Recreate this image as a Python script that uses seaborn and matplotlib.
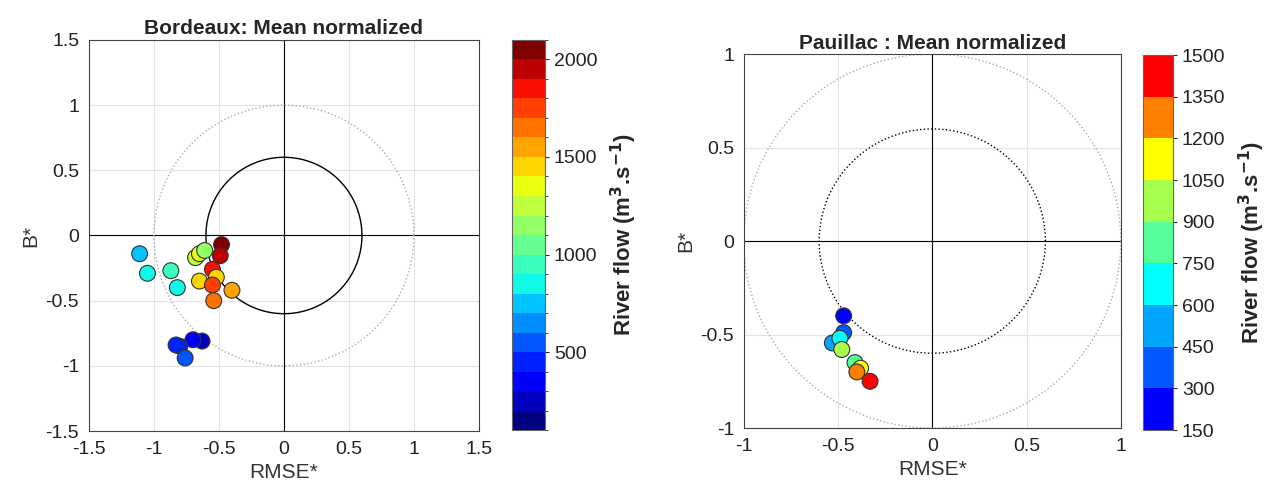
import numpy as np
import pandas as pd
import matplotlib
matplotlib.use("Agg")
import matplotlib.pyplot as plt
import matplotlib.colors as mcolors
import matplotlib.cm as cm
from matplotlib.ticker import FuncFormatter
import seaborn as sns

sns.set_style("white")
plt.rcParams['font.family'] = ['Liberation Sans', 'DejaVu Sans']
plt.rcParams['axes.unicode_minus'] = False

# ---- data: Bordeaux ----
bdx_rmse = [-1.11, -1.05, -0.87, -0.82, -0.68, -0.65, -0.61, -0.48, -0.49, -0.55,
            -0.52, -0.65, -0.55, -0.40, -0.54, -0.63, -0.70, -0.80, -0.83, -0.76]
bdx_b = [-0.14, -0.29, -0.27, -0.40, -0.17, -0.14, -0.115, -0.07, -0.155, -0.26,
         -0.32, -0.35, -0.38, -0.42, -0.50, -0.81, -0.80, -0.85, -0.84, -0.94]
bdx_flow = [720, 820, 950, 880, 1220, 1320, 1120, 2050, 1950, 1850,
            1450, 1420, 1720, 1560, 1650, 250, 320, 430, 470, 560]

# ---- data: Pauillac ----
pau_rmse = [-0.47, -0.47, -0.53, -0.49, -0.48, -0.41, -0.38, -0.40, -0.33]
pau_b = [-0.40, -0.49, -0.545, -0.52, -0.58, -0.65, -0.68, -0.70, -0.75]
pau_flow = [220, 380, 520, 680, 1000, 820, 1130, 1280, 1430]

bdx_ticks = [-1.5, -1, -0.5, 0, 0.5, 1, 1.5]
pau_ticks = [-1, -0.5, 0, 0.5, 1]
bdx_cbar_ticks = [500, 1000, 1500, 2000]
pau_cbar_ticks = [150, 300, 450, 600, 750, 900, 1050, 1200, 1350, 1500]
titles = ["Bordeaux: Mean normalized", "Pauillac : Mean normalized"]
cbar_label = r"River flow (m$^{\mathbf{3}}$.s$^{\mathbf{-1}}$)"

# colormaps
bdx_cmap = matplotlib.colormaps['jet'].resampled(20)
bdx_norm = mcolors.BoundaryNorm(np.linspace(100, 2100, 21), 20)
pau_cmap = mcolors.ListedColormap([(0, 0, 1), (0, 0.35, 1), (0, 0.65, 1), (0, 1, 1),
                                   (0.33, 1, 0.6), (0.65, 1, 0.3), (1, 1, 0),
                                   (1, 0.5, 0), (1, 0, 0)])
pau_norm = mcolors.BoundaryNorm(pau_cbar_ticks, 9)

fig = plt.figure(figsize=(12.67, 4.90), dpi=100)
ax1 = fig.add_axes([0.0702, 0.1204, 0.3078, 0.798])
cax1 = fig.add_axes([0.404, 0.1224, 0.026, 0.796])
ax2 = fig.add_axes([0.587, 0.1265, 0.2976, 0.763])
cax2 = fig.add_axes([0.902, 0.1224, 0.0237, 0.765])

fmt = FuncFormatter(lambda v, p: f"{v:g}")
theta = np.linspace(0, 2 * np.pi, 400)

def setup(ax, lim, ticks, title, inner_style):
    ax.set_xlim(-lim, lim)
    ax.set_ylim(-lim, lim)
    ax.set_xticks(ticks)
    ax.set_yticks(ticks)
    ax.xaxis.set_major_formatter(fmt)
    ax.yaxis.set_major_formatter(fmt)
    ax.grid(True, color='#e3e3e3', linewidth=0.8)
    ax.set_axisbelow(True)
    ax.axhline(0, color='black', linewidth=0.8, zorder=1)
    ax.axvline(0, color='black', linewidth=0.8, zorder=1)
    ax.plot(np.cos(theta), np.sin(theta), color='#aaaaaa', linestyle=':', linewidth=1.0, zorder=1)
    ax.plot(0.6 * np.cos(theta), 0.6 * np.sin(theta), color='black', linestyle=inner_style,
            linewidth=1.0, zorder=1)
    for s in ax.spines.values():
        s.set_color('#444444')
        s.set_linewidth(0.8)
    ax.tick_params(labelsize=14, length=4, direction='in', colors='#333333',
                   labelcolor='#222222', pad=7)

setup(ax1, 1.5, bdx_ticks, titles[0], '-')
setup(ax2, 1.0, pau_ticks, titles[1], ':')

df1 = pd.DataFrame({"RMSE": bdx_rmse, "B": bdx_b, "flow": bdx_flow})
df2 = pd.DataFrame({"RMSE": pau_rmse, "B": pau_b, "flow": pau_flow})

sns.scatterplot(data=df1, x="RMSE", y="B", hue="flow", palette=bdx_cmap, hue_norm=bdx_norm,
                s=130, edgecolor='#333333', linewidth=0.8, legend=False, ax=ax1, zorder=3)
sns.scatterplot(data=df2, x="RMSE", y="B", hue="flow", palette=pau_cmap, hue_norm=pau_norm,
                s=130, edgecolor='#333333', linewidth=0.8, legend=False, ax=ax2, zorder=3)
for ax, t in ((ax1, titles[0]), (ax2, titles[1])):
    ax.set_xlabel("RMSE*", fontsize=15, color='#333333', labelpad=4)
    ax.set_ylabel("B*", fontsize=15, color='#333333', labelpad=4)
    ax.set_title(t, fontsize=15, fontweight='bold', pad=4)

cb1 = fig.colorbar(cm.ScalarMappable(norm=bdx_norm, cmap=bdx_cmap), cax=cax1,
                   ticks=bdx_cbar_ticks)
cb2 = fig.colorbar(cm.ScalarMappable(norm=pau_norm, cmap=pau_cmap), cax=cax2,
                   ticks=pau_cbar_ticks, spacing='proportional')
for cb in (cb1, cb2):
    cb.outline.set_edgecolor('#666666')
    cb.outline.set_linewidth(0.8)
    cb.ax.tick_params(labelsize=14, length=3, labelcolor='#222222')
    cb.set_label(cbar_label, fontsize=16, fontweight='bold', labelpad=8)
cb1.ax.yaxis.set_major_formatter(fmt)
cb2.ax.yaxis.set_major_formatter(fmt)

fig.savefig("out.png", dpi=100)
